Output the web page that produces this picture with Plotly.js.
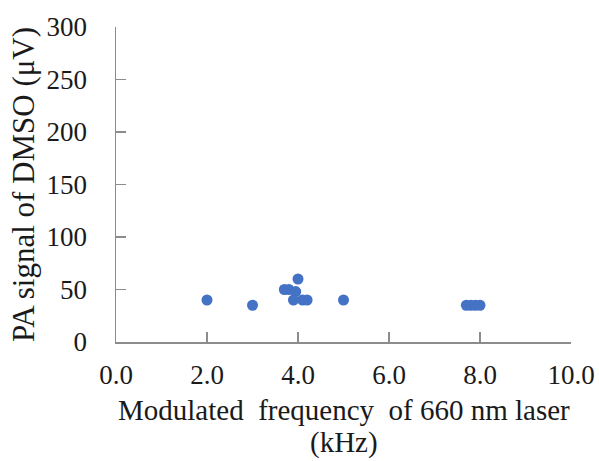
<!DOCTYPE html>
<html>
<head>
<meta charset="utf-8">
<script src="https://cdn.plot.ly/plotly-3.0.1.min.js"></script>
<style>
  html, body { margin: 0; padding: 0; background: #fff; }
  #chart { width: 599px; height: 461px; }
</style>
</head>
<body>
<div id="chart"></div>
<script>
// Modulated frequency (kHz) and PA signal of DMSO (µV)
const frequencyKHz = [2.0, 3.0, 3.7, 3.8, 4.0, 3.95, 3.9, 4.1, 4.2, 5.0, 7.7, 7.8, 7.9, 8.0];
const paSignalUV   = [40, 35, 50, 50, 60, 48, 40, 40, 40, 40, 35, 35, 35, 35];

const xTickVals = [0, 2, 4, 6, 8, 10];
const xTickText = ['0.0', '2.0', '4.0', '6.0', '8.0', '10.0'];
const yTickVals = [0, 50, 100, 150, 200, 250, 300];

const serif = 'Times New Roman';
const axisGrey = '#8c8c8c';
const wide = ' \u00a0';   // slightly wider word gap in the axis title
const xTitleLine1 = 'Modulated' + wide + 'frequency' + wide + 'of 660 nm laser';
const xTitleLine2 = '(kHz)';

const trace = {
  type: 'scatter',
  mode: 'markers',
  x: frequencyKHz,
  y: paSignalUV,
  marker: { color: '#4472c4', size: 11 }
};

const titleFont = { family: serif, size: 29, color: '#1a1a1a' };

const layout = {
  width: 599,
  height: 461,
  margin: { l: 116, r: 28, t: 27, b: 119 },
  paper_bgcolor: '#ffffff',
  plot_bgcolor: '#ffffff',
  showlegend: false,
  font: { family: serif, color: '#1a1a1a' },
  xaxis: {
    range: [0, 10],
    tickvals: xTickVals,
    ticktext: xTickText,
    ticks: 'inside',
    ticklen: 10,
    tickwidth: 1.5,
    tickcolor: axisGrey,
    showline: true,
    linecolor: axisGrey,
    linewidth: 1.5,
    showgrid: false,
    zeroline: false,
    ticklabelstandoff: 8,
    tickfont: { family: serif, size: 27, color: '#1a1a1a' }
  },
  yaxis: {
    range: [0, 300],
    tickvals: yTickVals,
    ticks: 'inside',
    ticklen: 10,
    tickwidth: 1.5,
    tickcolor: axisGrey,
    showline: true,
    linecolor: axisGrey,
    linewidth: 1.5,
    showgrid: false,
    zeroline: false,
    ticklabelstandoff: 22,
    tickfont: { family: serif, size: 27, color: '#1a1a1a' },
    title: {
      text: 'PA signal of DMSO (μV)',
      font: { family: serif, size: 31, color: '#1a1a1a' },
      standoff: 2
    }
  },
  // x-axis title, two lines, placed as paper annotations below the tick labels
  annotations: [
    {
      xref: 'paper', yref: 'paper',
      x: 0.5, y: -0.1587,
      xanchor: 'center', yanchor: 'top',
      showarrow: false,
      text: xTitleLine1,
      font: titleFont
    },
    {
      xref: 'paper', yref: 'paper',
      x: 0.5, y: -0.3778,
      xanchor: 'center', yanchor: 'bottom',
      showarrow: false,
      text: xTitleLine2,
      font: titleFont
    }
  ]
};

Plotly.newPlot('chart', [trace], layout, { displayModeBar: false, staticPlot: true });
</script>
</body>
</html>
